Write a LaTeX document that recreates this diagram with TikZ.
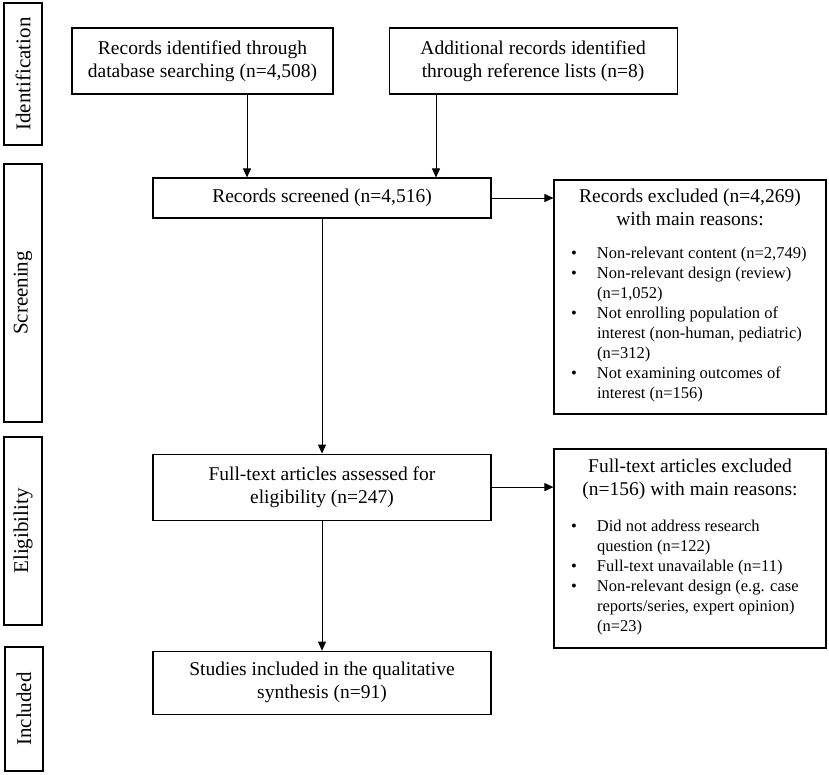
\documentclass[tikz,border=0pt]{standalone}
\usepackage{fontspec}
\setmainfont{Liberation Serif}
\usetikzlibrary{arrows.meta, positioning}

\begin{document}
\begin{tikzpicture}[
        x=1pt, y=-1pt,
        node distance=1cm,
        box/.style={rectangle, draw, line width=1.1pt, align=center, inner sep=4pt, font=\fontsize{19.5}{23}\selectfont},
        phase/.style={rectangle, draw, line width=1.1pt, rotate=90, minimum height=38pt, inner sep=2pt, font=\fontsize{21}{24}\selectfont},
        arrow/.style={line width=0.9pt, -{Triangle[length=9pt, width=8pt]}}
    ]
        \useasboundingbox (0,0) rectangle (829,774);

        \node[phase, minimum width=142pt] (pident) at (23,74) {Identification};
        \node[phase, minimum width=258pt] (pscreen) at (23,293) {Screening};
        \node[phase, minimum width=188pt] (pelig) at (23,531) {Eligibility};
        \node[phase, minimum width=124pt] (pincl) at (24,709) {Included};

        \node[box, minimum width=261pt, minimum height=66pt] (ident) at (202.5,61) {Records identified through\\database searching (n=4,508)};
        \node[box, minimum width=288pt, minimum height=66pt, right=55pt of ident] (addl) {Additional records identified\\through reference lists (n=8)};
        \node[box, minimum width=338pt, minimum height=40pt] (screen) at (322,198) {Records screened (n=4,516)};
        \node[box, minimum width=338pt, minimum height=66pt, below=235pt of screen] (assess) {Full-text articles assessed for\\eligibility (n=247)};
        \node[box, minimum width=338pt, minimum height=63pt, below=130pt of assess] (incl) {Studies included in the qualitative\\synthesis (n=91)};

        \node[box, minimum width=272pt, minimum height=234pt] (excl) at (690,297) {Records excluded (n=4,269)\\with main reasons:\\[10pt]{\fontsize{16.5}{20}\selectfont\begin{tabular}[t]{@{}p{26pt}@{}p{212pt}@{}}
            \textbullet & Non-relevant content (n=2,749)\\
            \textbullet & Non-relevant design (review)\\
                        & (n=1,052)\\
            \textbullet & Not enrolling population of\\
                        & interest (non-human, pediatric)\\
                        & (n=312)\\
            \textbullet & Not examining outcomes of\\
                        & interest (n=156)
        \end{tabular}}};
        \node[box, minimum width=272pt, minimum height=199pt] (exclft) at (690,548.5) {Full-text articles excluded\\(n=156) with main reasons:\\[13pt]{\fontsize{16.5}{20}\selectfont\begin{tabular}[t]{@{}p{26pt}@{}p{212pt}@{}}
            \textbullet & Did not address research\\
                        & question (n=122)\\
            \textbullet & Full-text unavailable (n=11)\\
            \textbullet & Non-relevant design (e.g. case\\
                        & reports/series, expert opinion)\\
                        & (n=23)
        \end{tabular}}};

        \coordinate (ja) at (247,0);
        \coordinate (jb) at (436,0);
        \draw[arrow] (ident.south -| ja) -- (screen.north -| ja);
        \draw[arrow] (addl.south -| jb) -- (screen.north -| jb);
        \draw[arrow] (screen.east) -- (screen.east -| excl.west);
        \draw[arrow] (screen) -- (assess);
        \draw[arrow] (assess.east) -- (assess.east -| exclft.west);
        \draw[arrow] (assess) -- (incl);
    \end{tikzpicture}
\end{document}
